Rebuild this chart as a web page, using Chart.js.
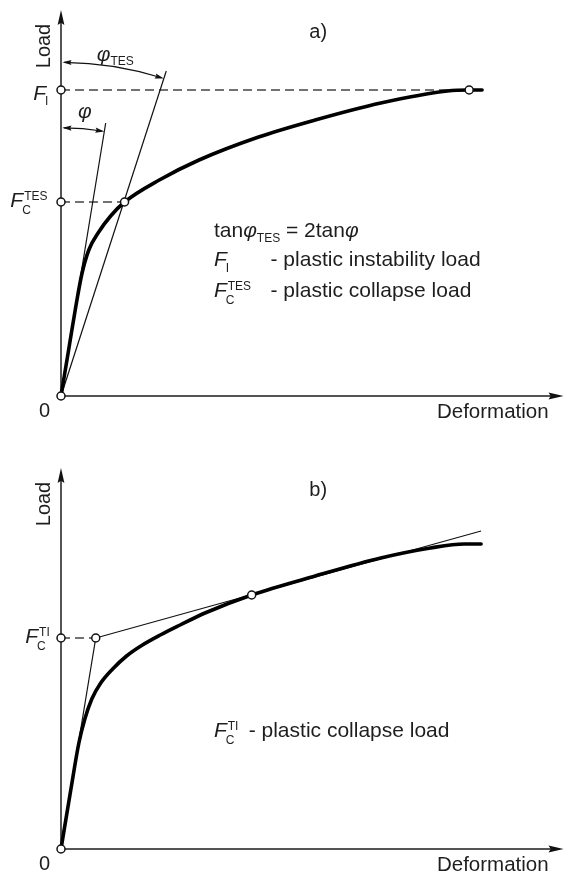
<!DOCTYPE html>
<html>
<head>
<meta charset="UTF-8">
<title>Load - Deformation</title>
<script src="https://cdn.jsdelivr.net/npm/chart.js"></script>
<style>
  body { margin: 0; background: #fff; }
  .panel { position: absolute; left: 0; width: 569px; height: 436px; }
  #panelA { top: 0; }
  #panelB { top: 436px; }
</style>
</head>
<body>
<div class="panel" id="panelA"><canvas id="chartA" width="569" height="436"></canvas></div>
<div class="panel" id="panelB"><canvas id="chartB" width="569" height="436"></canvas></div>
<script>
// axis ranges (arbitrary units)
const X_MAX = 506;
const Y_MAX_A = 386;
const Y_MAX_B = 381;

// a) twice elastic slope method
const curveA = [
  {x:0,y:0},{x:8,y:48},{x:15,y:90},{x:21,y:122},{x:28,y:146},{x:38,y:164},{x:50,y:180},
  {x:64,y:194},{x:99,y:216},{x:139,y:236},{x:199,y:259},{x:256,y:276},{x:322,y:293},
  {x:389,y:305},{x:411,y:306},{x:424,y:306}
];
const phiLine = [{x:0,y:0},{x:45,y:273}];
const tesLine = [{x:0,y:0},{x:106,y:325}];
const fiLevel = [{x:0,y:306},{x:411,y:306}];
const fcTesLevel = [{x:0,y:194},{x:64,y:194}];
const markersA = [{x:0,y:0},{x:0,y:306},{x:0,y:194},{x:64,y:194},{x:411,y:306}];
const phiArcR = 270, tesArcR = 336;

// b) tangent intersection method
const curveB = [
  {x:0,y:0},{x:10,y:60},{x:18,y:106},{x:24,y:130},{x:31,y:150},{x:40,y:166},{x:52,y:180},
  {x:66,y:193},{x:82,y:204},{x:100,y:214},{x:120,y:224},{x:145,y:236},{x:192,y:254},
  {x:256,y:273},{x:322,y:291},{x:372,y:301},{x:406,y:305},{x:423,y:305}
];
const elasticLineB = [{x:0,y:0},{x:35,y:211}];
const tangentLineB = [{x:35,y:211},{x:423,y:318}];
const fcTiLevel = [{x:0,y:211},{x:35,y:211}];
const markersB = [{x:0,y:0},{x:0,y:211},{x:35,y:211},{x:192,y:254}];

const FONT = '"Liberation Sans", Arial, sans-serif';
const INK = '#1e1e1e';

function line(data, width, color, extra) {
  return Object.assign({
    data: data, showLine: true, borderColor: color, borderWidth: width,
    pointRadius: 0, fill: false, clip: false, borderCapStyle: 'butt'
  }, extra || {});
}
function markers(data) {
  return { data: data, showLine: false, pointRadius: 4, pointBackgroundColor: '#fff',
           pointBorderColor: '#111', pointBorderWidth: 1.5, clip: false };
}
function axes(yMax) {
  return [
    line([{x:0,y:0},{x:X_MAX - 8,y:0}], 2, '#555'),
    line([{x:0,y:0},{x:0,y:yMax - 8}], 2, '#555')
  ];
}

function txt(ctx, s, x, y, size, opt) {
  opt = opt || {};
  ctx.font = (opt.italic ? 'italic ' : '') + size + 'px ' + FONT;
  ctx.fillStyle = INK;
  ctx.textAlign = opt.align || 'left';
  ctx.textBaseline = 'alphabetic';
  ctx.fillText(s, x, y);
  return ctx.measureText(s).width;
}
// F with stacked subscript / superscript
function fSym(ctx, x, y, sub, sup) {
  const w = txt(ctx, 'F', x, y, 21, {italic: true});
  const w1 = sub ? txt(ctx, sub, x + w - 1, y + 7, 12) : 0;
  const w2 = sup ? txt(ctx, sup, x + w + 1, y - 7, 12) : 0;
  return w + Math.max(w1, w2);
}
function arrow(ctx, x, y, ang, len, hw) {
  ctx.save();
  ctx.translate(x, y);
  ctx.rotate(ang);
  ctx.beginPath();
  ctx.moveTo(0, 0);
  ctx.lineTo(-len, -hw);
  ctx.lineTo(-len * 0.85, 0);
  ctx.lineTo(-len, hw);
  ctx.closePath();
  ctx.fillStyle = '#111';
  ctx.fill();
  ctx.restore();
}
// double headed angle arc from the load axis to a line through the origin
function angleArc(chart, r, lineEnd) {
  const ctx = chart.ctx, xs = chart.scales.x, ys = chart.scales.y;
  const cx = xs.getPixelForValue(0), cy = ys.getPixelForValue(0);
  const rp = xs.getPixelForValue(r) - cx;
  const a0 = -Math.PI / 2;
  const a1 = Math.atan2(ys.getPixelForValue(lineEnd.y) - cy, xs.getPixelForValue(lineEnd.x) - cx);
  ctx.save();
  ctx.strokeStyle = '#111';
  ctx.lineWidth = 1.2;
  ctx.beginPath();
  ctx.arc(cx, cy, rp, a0 + 0.01, a1 - 0.01);
  ctx.stroke();
  ctx.restore();
  arrow(ctx, cx + rp * Math.cos(a0) + 1.5, cy + rp * Math.sin(a0), Math.PI + 0.02, 9, 2.6);
  arrow(ctx, cx + rp * Math.cos(a1), cy + rp * Math.sin(a1), a1 + Math.PI / 2 - 0.02, 9, 2.6);
}
function axisDecor(chart, yMax, panelLabel) {
  const ctx = chart.ctx, xs = chart.scales.x, ys = chart.scales.y;
  const P = (x, y) => [xs.getPixelForValue(x), ys.getPixelForValue(y)];
  let p = P(X_MAX, 0); arrow(ctx, p[0], p[1], 0, 15, 3.4);
  p = P(0, yMax); arrow(ctx, p[0], p[1], -Math.PI / 2, 15, 3.4);
  p = P(-18, yMax - 36);
  ctx.save();
  ctx.translate(p[0], p[1]);
  ctx.rotate(-Math.PI / 2);
  txt(ctx, 'Load', 0, 7, 20, {align: 'center'});
  ctx.restore();
  p = P(-11, -21); txt(ctx, '0', p[0], p[1], 20, {align: 'right'});
  p = P(491, -22); txt(ctx, 'Deformation', p[0], p[1], 20.5, {align: 'right'});
  p = P(259, yMax - 28); txt(ctx, panelLabel, p[0], p[1], 20, {align: 'center'});
}

function drawA(chart) {
  const ctx = chart.ctx, xs = chart.scales.x, ys = chart.scales.y;
  const P = (x, y) => [xs.getPixelForValue(x), ys.getPixelForValue(y)];
  axisDecor(chart, Y_MAX_A, 'a)');
  angleArc(chart, phiArcR, phiLine[1]);
  angleArc(chart, tesArcR, tesLine[1]);
  let p = P(17, 278); txt(ctx, '\u03c6', p[0], p[1], 21, {italic: true});
  p = P(36, 335);
  let w = txt(ctx, '\u03c6', p[0], p[1], 21, {italic: true});
  txt(ctx, 'TES', p[0] + w, p[1] + 4, 12);
  p = P(-28, 296); w = txt(ctx, 'F', p[0], p[1], 21, {italic: true});
  txt(ctx, 'I', p[0] + w - 1, p[1] + 5, 12);
  p = P(-51, 189); fSym(ctx, p[0], p[1], 'C', 'TES');
  // note block
  p = P(154, 159);
  let x = p[0];
  x += txt(ctx, 'tan', x, p[1], 21);
  x += txt(ctx, '\u03c6', x, p[1], 21, {italic: true});
  x += txt(ctx, 'TES', x, p[1] + 5, 12);
  x += txt(ctx, ' = 2tan', x, p[1], 21);
  txt(ctx, '\u03c6', x, p[1], 21, {italic: true});
  p = P(154, 130); w = txt(ctx, 'F', p[0], p[1], 21, {italic: true});
  txt(ctx, 'I', p[0] + w - 1, p[1] + 6, 12);
  let q = P(211, 130); txt(ctx, '- plastic instability load', q[0], q[1], 21);
  p = P(154, 99); fSym(ctx, p[0], p[1], 'C', 'TES');
  q = P(211, 99); txt(ctx, '- plastic collapse load', q[0], q[1], 21);
}

function drawB(chart) {
  const ctx = chart.ctx, xs = chart.scales.x, ys = chart.scales.y;
  const P = (x, y) => [xs.getPixelForValue(x), ys.getPixelForValue(y)];
  axisDecor(chart, Y_MAX_B, 'b)');
  let p = P(-36, 206); fSym(ctx, p[0], p[1], 'C', 'TI');
  p = P(154, 112); fSym(ctx, p[0], p[1], 'C', 'TI');
  const q = P(189, 112); txt(ctx, '- plastic collapse load', q[0], q[1], 21);
}

function options(yMax, pad) {
  return {
    responsive: false, animation: false, events: [],
    layout: { padding: pad },
    plugins: { legend: { display: false }, tooltip: { enabled: false } },
    scales: {
      x: { type: 'linear', display: false, min: 0, max: X_MAX },
      y: { type: 'linear', display: false, min: 0, max: yMax }
    }
  };
}

const dash = { borderDash: [9, 5] };

new Chart(document.getElementById('chartA'), {
  type: 'scatter',
  data: { datasets: [
    markers(markersA),
    line(curveA, 3.6, '#000', { cubicInterpolationMode: 'monotone', borderCapStyle: 'round' }),
    line(phiLine, 1.2, '#111'),
    line(tesLine, 1.2, '#111'),
    line(fiLevel, 1.6, '#444', dash),
    line(fcTesLevel, 1.6, '#444', dash)
  ].concat(axes(Y_MAX_A)) },
  options: options(Y_MAX_A, { left: 61, right: 2, top: 10, bottom: 40 }),
  plugins: [{ id: 'notesA', afterDatasetsDraw: drawA }]
});

new Chart(document.getElementById('chartB'), {
  type: 'scatter',
  data: { datasets: [
    markers(markersB),
    line(curveB, 3.6, '#000', { cubicInterpolationMode: 'monotone', borderCapStyle: 'round' }),
    line(elasticLineB, 1.2, '#111'),
    line(tangentLineB, 1.2, '#111'),
    line(fcTiLevel, 1.6, '#444', dash)
  ].concat(axes(Y_MAX_B)) },
  options: options(Y_MAX_B, { left: 61, right: 2, top: 32, bottom: 23 }),
  plugins: [{ id: 'notesB', afterDatasetsDraw: drawB }]
});
</script>
</body>
</html>
